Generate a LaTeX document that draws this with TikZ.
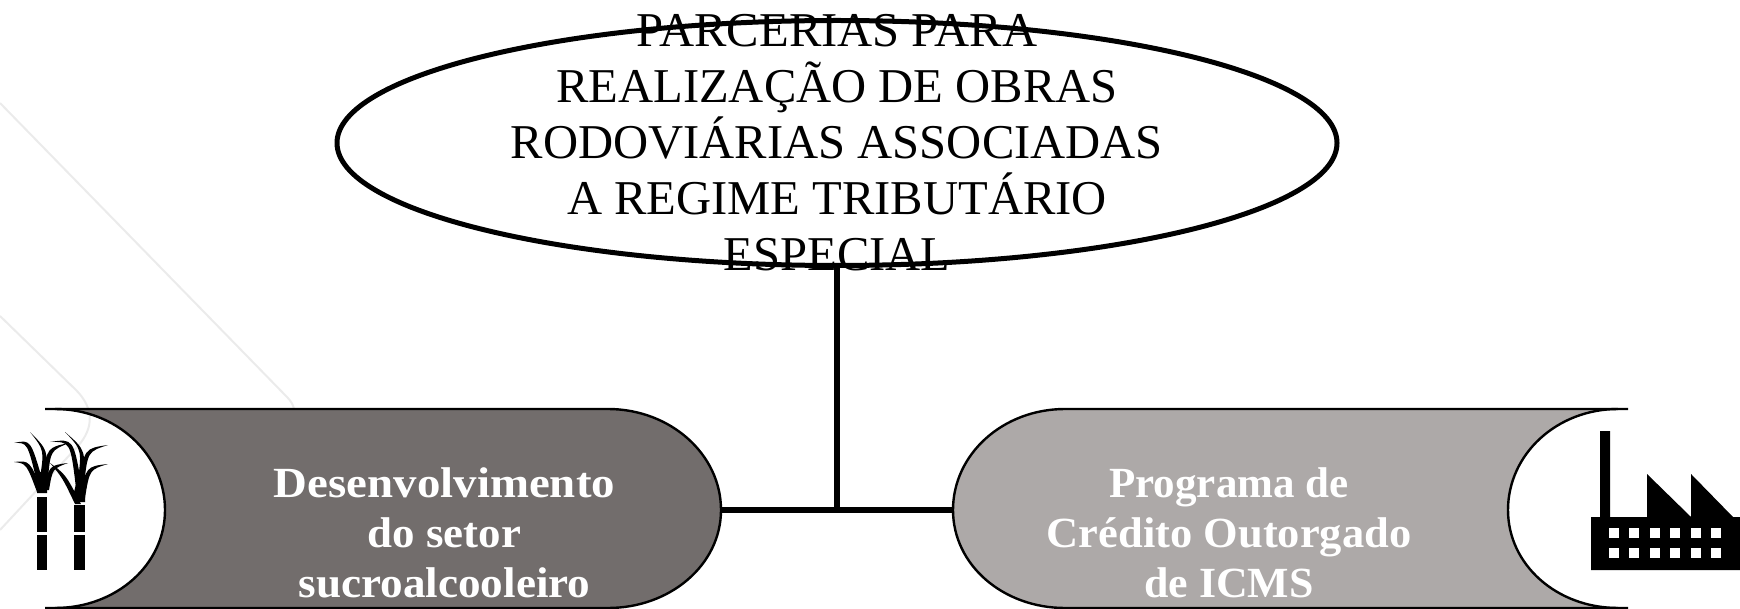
\documentclass[tikz,border=0pt]{standalone}
\usepackage{fontspec}
\setmainfont{Liberation Serif}
\usetikzlibrary{shapes.geometric}
\definecolor{darkpill}{HTML}{726D6C}
\definecolor{lightpill}{HTML}{ADA9A8}
\definecolor{bgline}{HTML}{EBEBEB}
% base x, base y, tip x, tip y, control x, control y, control offset x, control offset y
\newcommand{\caneleaf}[8]{\fill[black] (#1-3,#2) .. controls (#5-#7,#6-#8) .. (#3,#4) .. controls (#5+#7,#6+#8) .. (#1+3,#2) -- cycle;}
\newcommand{\wider}[2]{\scalebox{#1}[1]{#2}}
\tikzset{
  bgstroke/.style={draw=bgline,line width=1pt,line join=round},
  pillstroke/.style={draw=black,line width=1.2pt},
  linkstroke/.style={draw=black,line width=2.7pt},
  titlebox/.style={shape=ellipse,draw=black,line width=2.5pt,fill=white,inner sep=0pt,minimum width=500pt,minimum height=122.5pt},
  titletext/.style={align=center,text=black,inner sep=0pt,font=\fontsize{24.3}{28}\selectfont},
  pilltext/.style={align=center,text=white,inner sep=0pt,font=\bfseries\fontsize{21.5}{25}\selectfont}
}
\begin{document}
\begin{tikzpicture}[x=0.5pt,y=-0.5pt]
\useasboundingbox (0,0) rectangle (1740,609);
% faint background lines
\draw[bgstroke] (0,103) -- (286,396) .. controls (292,402) and (293,405) .. (294,409);
\draw[bgstroke] (0,316) -- (76,390) .. controls (94,408) and (94,428) .. (78,446) -- (0,530);
% pills
\path[fill=darkpill] (55,409) -- (608,409) .. controls (670,409) and (721,454) .. (721,510) .. controls (721,565) and (670,608) .. (608,608) -- (55,608) .. controls (116,608) and (165,565) .. (165,510) .. controls (165,454) and (116,409) .. (55,409) -- cycle;
\draw[pillstroke] (45,409) -- (608,409) .. controls (670,409) and (721,454) .. (721,510) .. controls (721,565) and (670,608) .. (608,608) -- (45,608);
\draw[pillstroke] (55,409) .. controls (116,409) and (165,454) .. (165,510) .. controls (165,565) and (116,608) .. (55,608);
\path[fill=lightpill] (1618,409) -- (1065,409) .. controls (1003,409) and (953,454) .. (953,510) .. controls (953,565) and (1003,608) .. (1065,608) -- (1618,608) .. controls (1557,608) and (1508,565) .. (1508,510) .. controls (1508,454) and (1557,409) .. (1618,409) -- cycle;
\draw[pillstroke] (1628,409) -- (1065,409) .. controls (1003,409) and (953,454) .. (953,510) .. controls (953,565) and (1003,608) .. (1065,608) -- (1628,608);
\draw[pillstroke] (1618,409) .. controls (1557,409) and (1508,454) .. (1508,510) .. controls (1508,565) and (1557,608) .. (1618,608);
\coordinate (leftend) at (721,510);
\coordinate (rightend) at (953,510);
\coordinate (junction) at (837,510);
% title
\node[titlebox] (title) at (837,143) {};
\draw[linkstroke] (title.south) -- (junction);
\draw[linkstroke] (leftend) -- (rightend);
\node[titletext] (titlelabel) at (837,142.5) {PARCERIAS PARA\\REALIZAÇÃO DE OBRAS\\RODOVIÁRIAS ASSOCIADAS\\A REGIME TRIBUTÁRIO\\ESPECIAL};
\node[pilltext] (leftlabel) at (444.5,533) {\wider{1.09}{Desenvolvimento}\\\wider{1.045}{do setor}\\\wider{1.05}{sucroalcooleiro}};
\node[pilltext] (rightlabel) at (1229,533) {Programa de\\\wider{1.035}{Crédito Outorgado}\\\wider{1.02}{de ICMS}};
% sugar cane
\fill[black] (37,570) -- (47,570) -- (47,535) -- (37,535) -- cycle;
\fill[black] (37,532) -- (47,532) -- (47,497) -- (37,497) -- cycle;
\fill[black] (37,493) -- (47,493) -- (47,484) -- (45,472) -- (40,472) -- (37,484) -- cycle;
\fill[black] (74,570) -- (85,570) -- (85,535) -- (74,535) -- cycle;
\fill[black] (74,532) -- (85,532) -- (85,505) -- (74,505) -- cycle;
\fill[black] (74,502) -- (85,502) -- (85,492) -- (83,480) -- (77,480) -- (74,492) -- cycle;
\caneleaf{40}{482}{14}{443}{29}{441}{1.6}{-1.6}
\caneleaf{40}{492}{14}{462}{28}{462}{1.6}{-1.6}
\caneleaf{43}{478}{30}{432}{46}{450}{1.8}{0}
\caneleaf{45}{478}{69}{443}{49}{449}{1.6}{1.6}
\caneleaf{46}{490}{68}{463}{51}{467}{1.6}{1.6}
\caneleaf{79}{488}{50}{442}{72}{440}{1.6}{-1.6}
\caneleaf{78}{504}{50}{463}{64}{476}{1.6}{-1.6}
\caneleaf{80}{486}{65}{432}{84}{450}{1.8}{0}
\caneleaf{81}{486}{108}{445}{86}{450}{1.6}{1.6}
\caneleaf{82}{498}{108}{464}{88}{468}{1.6}{1.6}
% factory
\fill[black] (1591,517) -- (1600,517) -- (1600,431) -- (1610,431) -- (1610,517) -- (1647,517) -- (1647,474) -- (1691,517) -- (1691,474) -- (1733,517) -- (1740,517) -- (1740,570) -- (1591,570) -- cycle;
\foreach \wx in {1609,1629,1650,1670,1691,1711}
  \foreach \wy in {528,548}
    \fill[white] (\wx,\wy) rectangle ++(10,10);
\end{tikzpicture}
\end{document}
